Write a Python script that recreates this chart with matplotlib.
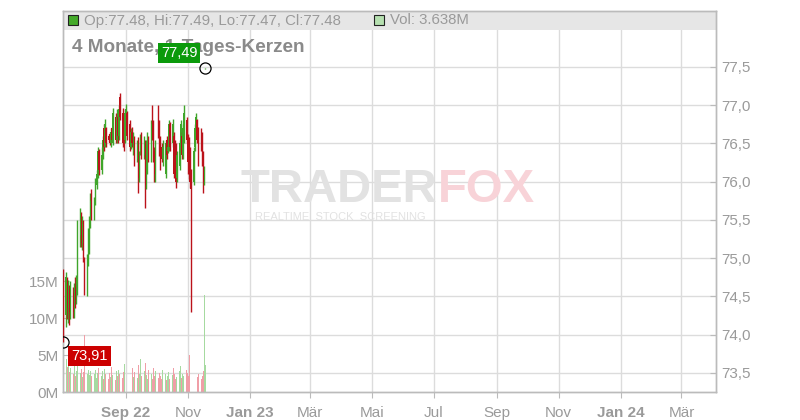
import numpy as np
import pandas as pd
import matplotlib
matplotlib.use('Agg')
import matplotlib.pyplot as plt
from matplotlib.patches import Rectangle
from matplotlib.ticker import FuncFormatter

plt.rcParams['font.family'] = ['Liberation Sans', 'DejaVu Sans']

# Tageskerzen Jul - Nov 2022
dates = pd.bdate_range('2022-07-01', '2022-11-18')

opens = [74.80, 74.25, 74.70, 74.35, 74.60, 74.30, 74.55, 74.30, 74.62, 74.45, 74.60,
         75.30, 75.55, 75.20, 75.45, 75.00, 74.60, 74.95, 75.10, 75.50, 75.75,
         75.55, 75.75, 75.95, 76.10, 76.40, 76.15, 76.35, 76.70, 76.45, 76.70, 76.60,
         76.62, 76.50, 76.70, 76.50, 76.85, 76.55, 76.85, 76.60, 77.10, 76.90, 76.80, 76.55,
         76.75, 76.90, 76.75, 76.45, 76.65, 76.40, 76.55, 76.30, 76.55, 76.05, 76.40,
         76.60, 76.35, 76.50, 75.95, 76.30, 76.55, 76.30, 76.90, 76.75, 76.40, 76.10,
         76.95, 76.75, 76.55, 76.45, 76.30, 76.10, 76.55, 76.40, 76.45, 76.75, 76.50,
         76.60, 76.50, 76.45, 76.05, 76.20, 76.45, 76.60, 76.35, 76.55, 76.80,
         76.60, 76.55, 76.40, 76.15, 76.00, 76.45, 76.70, 76.80, 76.70, 76.65, 76.60,
         76.35, 76.05, 77.48]
closes = [74.25, 74.75, 74.35, 74.65, 74.30, 74.60, 74.30, 74.62, 74.45, 74.70, 75.45,
          75.60, 75.20, 75.45, 75.10, 74.60, 74.90, 75.35, 75.50, 75.75, 75.60,
          75.75, 75.95, 76.10, 76.40, 76.15, 76.35, 76.55, 76.45, 76.75, 76.50, 76.55,
          76.50, 76.65, 76.55, 76.90, 76.55, 76.85, 76.60, 76.95, 76.85, 76.50, 76.45, 76.90,
          76.95, 76.60, 76.45, 76.65, 76.50, 76.60, 76.30, 76.50, 76.05, 76.35, 76.55,
          76.35, 76.55, 75.95, 76.35, 76.60, 76.30, 76.75, 76.60, 76.35, 76.10, 76.45,
          76.65, 76.40, 76.25, 76.30, 76.45, 76.50, 76.35, 76.45, 76.75, 76.45, 76.75,
          76.10, 76.15, 76.00, 76.35, 76.50, 76.75, 76.35, 76.70, 76.90, 76.55,
          76.25, 76.10, 76.00, 75.90, 76.40, 76.70, 76.85, 76.55, 76.25, 76.45, 76.30,
          76.00, 76.15, 77.48]
highs = [74.86, 74.82, 74.75, 74.72, 74.65, 74.70, 74.62, 74.68, 74.75, 74.78, 75.50,
         75.65, 75.60, 75.55, 75.50, 75.02, 75.05, 75.40, 75.55, 75.85, 75.90,
         75.80, 76.05, 76.15, 76.45, 76.42, 76.45, 76.60, 76.75, 76.82, 76.72, 76.62,
         76.65, 76.70, 76.72, 76.96, 76.90, 76.95, 76.90, 77.00, 77.16, 76.96, 76.90, 76.95,
         77.02, 76.92, 76.80, 76.70, 76.72, 76.65, 76.60, 76.55, 76.58, 76.40, 76.62,
         76.65, 76.60, 76.55, 76.55, 76.65, 76.60, 76.80, 77.00, 76.80, 76.45, 76.55,
         77.00, 76.80, 76.60, 76.50, 76.55, 76.55, 76.60, 76.50, 76.80, 76.78, 76.82,
         76.65, 76.55, 76.50, 76.40, 76.55, 76.80, 76.65, 76.75, 77.00, 76.85,
         76.62, 76.58, 76.45, 76.17, 76.45, 76.75, 76.90, 76.82, 76.72, 76.70, 76.65,
         76.40, 76.20, 77.49]
lows = [73.91, 74.10, 74.20, 74.15, 74.12, 74.20, 74.22, 74.22, 74.35, 74.40, 74.52,
        75.15, 75.15, 75.10, 74.95, 74.52, 74.50, 74.90, 75.05, 75.40, 75.50,
        75.50, 75.70, 75.90, 76.05, 76.08, 76.10, 76.30, 76.40, 76.45, 76.45, 76.52,
        76.48, 76.45, 76.52, 76.48, 76.50, 76.50, 76.50, 76.55, 76.80, 76.45, 76.40, 76.50,
        76.70, 76.55, 76.40, 76.42, 76.45, 76.35, 76.20, 76.25, 75.85, 76.00, 76.35,
        76.30, 76.30, 75.65, 75.90, 76.10, 76.25, 76.25, 76.55, 76.25, 76.00, 76.00,
        76.57, 76.33, 76.15, 76.25, 76.20, 76.05, 76.30, 76.38, 76.40, 76.40, 76.45,
        76.05, 76.10, 75.92, 76.00, 76.15, 76.40, 76.30, 76.30, 76.50, 76.50,
        76.10, 76.03, 75.92, 74.30, 75.95, 76.40, 76.60, 76.50, 76.20, 76.40, 76.20,
        75.85, 75.95, 77.47]
volumes = [6.2, 4.5, 3.4, 3.8, 2.7, 3.2, 2.4, 3.5, 2.2, 2.9, 4.1, 2.6, 3.1, 2.0, 2.7, 7.7, 2.4, 3.0, 2.3, 2.8, 2.1,
           2.5, 3.0, 1.9, 2.6, 3.3, 2.2, 2.8, 1.7, 3.1, 2.4, 1.8, 2.6, 2.0, 3.4, 2.3, 1.6, 2.9, 2.1, 3.0, 2.5, 1.9, 2.7, 3.8,
           2.2, 3.5, 1.8, 2.6, 3.2, 2.0, 2.7, 1.9, 3.6, 2.4, 4.5, 2.1, 2.8, 3.9, 2.3, 1.7, 3.0, 2.5, 1.8, 3.3, 2.2, 2.9,
           1.9, 2.6, 2.2, 1.7, 3.0, 2.4, 1.6, 2.1, 2.7, 1.8, 2.3, 3.2, 2.5, 1.7, 2.0, 2.8, 3.5, 1.9, 2.4, 2.2, 3.0,
           2.6, 2.1, 5.0, 4.7, 1.9, 2.6, 3.1, 2.0, 2.4, 1.8, 2.2, 2.8, 13.1, 3.638]

tick_dates = pd.to_datetime(['2022-09-01', '2022-11-01', '2023-01-01', '2023-03-01', '2023-05-01',
                             '2023-07-01', '2023-09-01', '2023-11-01', '2024-01-01', '2024-03-01'])
tick_labels = ['Sep 22', 'Nov', 'Jan 23', 'Mär', 'Mai', 'Jul', 'Sep', 'Nov', 'Jan 24', 'Mär']
price_ticks = [73.5, 74.0, 74.5, 75.0, 75.5, 76.0, 76.5, 77.0, 77.5]
vol_ticks = [0, 5, 10, 15]

opens = np.array(opens); closes = np.array(closes)
highs = np.array(highs); lows = np.array(lows)
volumes = np.array(volumes)
up = closes >= opens

GREEN = '#3fa52a'
RED = '#bb121a'
GRID = '#dcdcdc'
TXT = '#9a9a9a'

fig = plt.figure(figsize=(8, 4.2), dpi=100)
ax = fig.add_axes([63/800, 28/420, 653/800, 381/420])   # volume, left axis
axp = ax.twinx()                                          # price, right axis

# volume bars
vcol = np.where(up, '#a6daa0', '#f09ea7')
ax.bar(dates, volumes, width=0.9, color=vcol, zorder=2)
ax.set_ylim(0, 51.5)
ax.set_yticks(vol_ticks)
ax.set_yticklabels([f'{v}M' for v in vol_ticks])

# grid (price based) drawn on volume axis so it stays behind
for p in price_ticks:
    y = (p - 73.25) / (78.23 - 73.25) * 51.5
    ax.axhline(y, color=GRID, lw=1, zorder=0)
for d in tick_dates:
    ax.axvline(d, color=GRID, lw=1, zorder=0)

ax.set_xlim(pd.Timestamp('2022-07-01'), pd.Timestamp('2024-04-04'))
ax.set_xticks(tick_dates)
ax.set_xticklabels(tick_labels)
for lab in ax.get_xticklabels():
    if ' ' in lab.get_text():
        lab.set_fontweight('bold')

# header band
ax.add_patch(Rectangle((0, 1 - 19/381), 1, 19/381, transform=ax.transAxes,
                       fc='#e6e6e6', ec='none', zorder=1))

# candles
col = np.where(up, GREEN, RED)
axp.vlines(dates, lows, highs, colors=col, lw=1.0, zorder=3)
axp.bar(dates, np.maximum(np.abs(closes - opens), 0.01), bottom=np.minimum(opens, closes),
        width=1.1, color=col, zorder=3)
axp.set_ylim(73.25, 78.23)
axp.set_yticks(price_ticks)
axp.yaxis.set_major_formatter(FuncFormatter(lambda v, _: f'{v:.1f}'.replace('.', ',')))

# min / max markers
imax = int(np.argmax(highs)); imin = int(np.argmin(lows))
axp.plot([dates[imax]], [highs[imax]], 'o', ms=8, mfc='none', mec='black', mew=0.9, zorder=5)
axp.plot([dates[imin]], [lows[imin]], 'o', ms=8, mfc='none', mec='black', mew=0.9, zorder=5)
fig.text(179/800, 1 - 53/420, f'{highs[imax]:.2f}'.replace('.', ','), color='white', fontsize=10.5,
         ha='center', va='center', zorder=6,
         bbox=dict(boxstyle='square,pad=0.2', fc='#0b9a0b', ec='none'))
fig.text(89.5/800, 1 - 356/420, f'{lows[imin]:.2f}'.replace('.', ','), color='white', fontsize=10.5,
         ha='center', va='center', zorder=6,
         bbox=dict(boxstyle='square,pad=0.2', fc='#cc0000', ec='none'))

# styling
for a in (ax, axp):
    for s in a.spines.values():
        s.set_color('#bbbbbb')
        s.set_linewidth(1)
ax.tick_params(axis='x', colors='#bbbbbb', labelcolor=TXT, labelsize=11, length=4, pad=6)
ax.tick_params(axis='y', colors='#bbbbbb', labelcolor=TXT, labelsize=11, length=4, direction='in', pad=3)
axp.tick_params(axis='y', colors='#bbbbbb', labelcolor=TXT, labelsize=11, length=4, direction='in', pad=4)

# header texts
fig.add_artist(Rectangle((68/800, 1 - 25/420), 10/800, 10/420, transform=fig.transFigure,
                         fc='#44aa2a', ec='#222222', lw=0.8))
fig.text(84/800, 1 - 20.5/420,
         f'Op:{opens[-1]:.2f}, Hi:{highs[-1]:.2f}, Lo:{lows[-1]:.2f}, Cl:{closes[-1]:.2f}',
         color=TXT, fontsize=10.8, va='center')
fig.add_artist(Rectangle((374/800, 1 - 25/420), 10/800, 10/420, transform=fig.transFigure,
                         fc='#b6e0b0', ec='#222222', lw=0.8))
fig.text(390/800, 1 - 20.5/420, f'Vol: {volumes[-1]:.3f}M', color=TXT, fontsize=10.8, va='center')
fig.text(72/800, 1 - 47/420, '4 Monate, 1-Tages-Kerzen', color='#8a8a8a', fontsize=13.7,
         fontweight='bold', va='center', zorder=4)

# watermark
fig.text(437/800, 1 - 190/420, 'TRADER', color='#e2e2e2', fontsize=34, fontweight='bold',
         ha='right', va='center', zorder=0.5)
fig.text(438/800, 1 - 190/420, 'FOX', color='#f8d3d8', fontsize=34, fontweight='bold',
         ha='left', va='center', zorder=0.5)
fig.text(340/800, 1 - 217/420, 'REALTIME  STOCK  SCREENING', color='#e2e2e2', fontsize=8,
         ha='center', va='center', zorder=0.5)

fig.savefig('out.png', dpi=100)
